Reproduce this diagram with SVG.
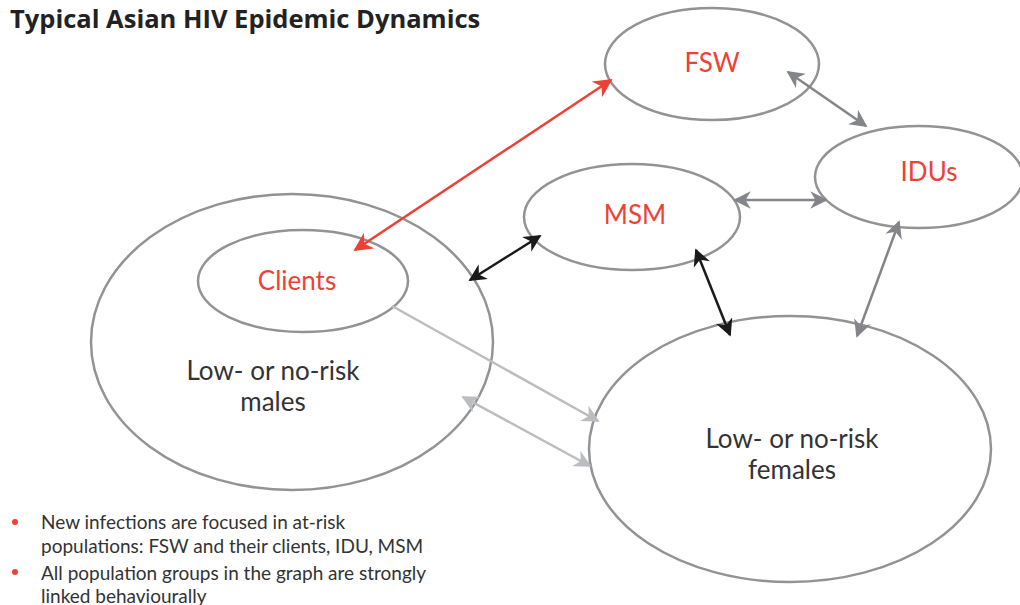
<svg xmlns="http://www.w3.org/2000/svg" width="1020" height="605" viewBox="0 0 1020 605">
<style>
.node{fill:none;stroke:#939393;stroke-width:2.5}
.lbl{font-family:Lato,"Open Sans",sans-serif;font-size:26px;fill:#ee4136;text-anchor:middle}
.dark{fill:#333333}
.title{font-family:"Open Sans",Lato,sans-serif;font-size:25.5px;font-weight:bold;fill:#222}
.bul{font-family:Lato,"Open Sans",sans-serif;font-size:19px;fill:#333}
</style>
<defs>
<marker id="aG" viewBox="0 0 10 10" refX="9" refY="5" markerWidth="7" markerHeight="7" orient="auto-start-reverse"><path d="M0,0 L10,5 L0,10 L3,5 z" fill="#848589"/></marker>
<marker id="aR" viewBox="0 0 10 10" refX="9" refY="5" markerWidth="7.5" markerHeight="7.5" orient="auto-start-reverse"><path d="M0,0 L10,5 L0,10 L3,5 z" fill="#ee4136"/></marker>
<marker id="aK" viewBox="0 0 10 10" refX="9" refY="5" markerWidth="7" markerHeight="7" orient="auto-start-reverse"><path d="M0,0 L10,5 L0,10 L3,5 z" fill="#1a1a1a"/></marker>
<marker id="aL" viewBox="0 0 10 10" refX="9" refY="5" markerWidth="7" markerHeight="7" orient="auto-start-reverse"><path d="M0,0 L10,5 L0,10 L3,5 z" fill="#bcbdc0"/></marker>
</defs>
<text class="title" x="10" y="28">Typical Asian HIV Epidemic Dynamics</text>
<g id="males"><ellipse class="node" cx="292" cy="342" rx="201" ry="148"/><text class="lbl dark" x="273" y="380">Low- or no-risk</text><text class="lbl dark" x="273" y="411">males</text></g>
<g id="clients"><ellipse class="node" cx="303" cy="281" rx="105" ry="51"/><text class="lbl" x="297" y="290">Clients</text></g>
<g id="fsw"><ellipse class="node" cx="712" cy="64" rx="107" ry="56"/><text class="lbl" x="712" y="72">FSW</text></g>
<g id="idus"><ellipse class="node" cx="919" cy="177" rx="104" ry="51"/><text class="lbl" x="929" y="181">IDUs</text></g>
<g id="msm"><ellipse class="node" cx="632" cy="217" rx="108" ry="53"/><text class="lbl" x="635" y="224">MSM</text></g>
<g id="females"><ellipse class="node" cx="790" cy="449" rx="201" ry="133"/><text class="lbl dark" x="792" y="448">Low- or no-risk</text><text class="lbl dark" x="792" y="479">females</text></g>
<g id="connectors" fill="none" stroke-width="2.5">
<line x1="355" y1="250" x2="611" y2="80" stroke="#ee4136" marker-start="url(#aR)" marker-end="url(#aR)"/>
<line x1="788" y1="72" x2="866" y2="126" stroke="#848589" marker-start="url(#aG)" marker-end="url(#aG)"/>
<line x1="735" y1="200" x2="826" y2="200" stroke="#848589" marker-start="url(#aG)" marker-end="url(#aG)"/>
<line x1="899" y1="222" x2="857" y2="336" stroke="#848589" marker-start="url(#aG)" marker-end="url(#aG)"/>
<line x1="540" y1="236" x2="470" y2="280" stroke="#1a1a1a" marker-start="url(#aK)" marker-end="url(#aK)"/>
<line x1="696" y1="250" x2="730" y2="335" stroke="#1a1a1a" marker-start="url(#aK)" marker-end="url(#aK)"/>
<line x1="392" y1="306" x2="598" y2="421" stroke="#bcbdc0" marker-end="url(#aL)"/>
<line x1="463" y1="397" x2="590" y2="466" stroke="#bcbdc0" marker-start="url(#aL)" marker-end="url(#aL)"/>
</g>
<g id="notes">
<circle cx="15" cy="522" r="3" fill="#ee4136"/>
<circle cx="15" cy="572" r="3" fill="#ee4136"/>
<text class="bul" x="41" y="529">New infections are focused in at-risk</text>
<text class="bul" x="41" y="553">populations: FSW and their clients, IDU, MSM</text>
<text class="bul" x="41" y="580">All population groups in the graph are strongly</text>
<text class="bul" x="41" y="603">linked behaviourally</text>
</g>
</svg>
